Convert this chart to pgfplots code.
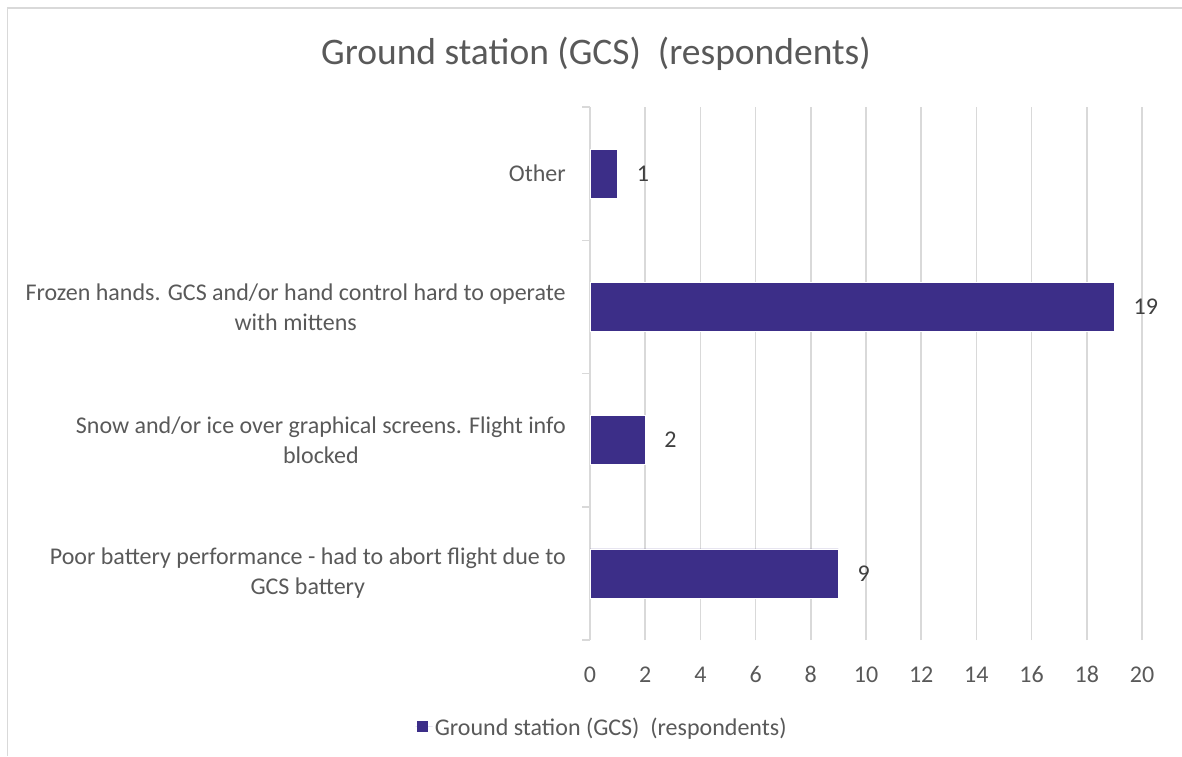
\documentclass[border=0pt]{standalone}
\usepackage{fontspec}
\setmainfont{Carlito}[Numbers=Lining]
\usepackage{pgfplots}
\pgfplotsset{compat=1.18}
\definecolor{barcol}{RGB}{60,46,136}
\definecolor{txt}{HTML}{595959}
\definecolor{lbl}{HTML}{404040}
\definecolor{grd}{HTML}{D9D9D9}
\begin{document}
\begin{tikzpicture}[x=1pt,y=1pt]
\path[use as bounding box] (0,0) rectangle (1182,756);
\draw[grd, line width=1.5pt] (7.5,0) -- (7.5,748) -- (1182,748);
\node[anchor=base, text=txt, font=\fontsize{37.5}{45}\selectfont, inner sep=0pt] at (596,691) {Ground station (GCS)\ \ (respondents)};
\begin{axis}[
 at={(590pt,116pt)}, anchor=south west, scale only axis, width=552pt, height=533pt,
 xmin=0, xmax=20, ymin=-0.5, ymax=3.5,
 xtick={0,2,...,20}, ytick={0,1,2,3},
 yticklabels={{Poor battery performance - had to abort flight due to\\GCS battery},{Snow and/or ice over graphical screens. Flight info\\blocked},{Frozen hands. GCS and/or hand control hard to operate\\with mittens},Other},
 minor ytick={-0.5,0.5,1.5,2.5,3.5},
 axis y line*=left, axis x line*=bottom,
 x axis line style={draw=none},
 y axis line style={grd, line width=1.5pt},
 xmajorgrids, grid style={grd, line width=1.5pt},
 major tick length=0pt, minor tick length=8pt, tick align=outside,
 minor tick style={grd, line width=1.5pt},
 /pgf/number format/assume math mode=true,
 ticklabel style={font=\fontsize{24}{30}\selectfont, text=txt},
 xticklabel style={anchor=base, inner sep=0pt},
 xticklabel shift=42pt,
 yticklabel style={align=center, inner sep=0pt, anchor=east},
 yticklabel shift=24pt,
 legend entries={Ground station (GCS)\ \ (respondents)},
 legend style={at={(0.0217,-0.1632)}, anchor=center, draw=none, font=\fontsize{24}{30}\selectfont, text=txt},
 legend image code/.code={\path (-2pt,0pt) -- (15pt,0pt); \fill[barcol] (0pt,-4pt) rectangle (10pt,6pt);},
]
\addplot[xbar, bar width=49pt, fill=barcol, draw=white, line width=0.5pt,
  nodes near coords,
  nodes near coords style={anchor=west, inner sep=0pt, xshift=19pt, text=lbl, font=\fontsize{24}{30}\selectfont}]
  coordinates {(9,0) (2,1) (19,2) (1,3)};
\end{axis}
\end{tikzpicture}
\end{document}
